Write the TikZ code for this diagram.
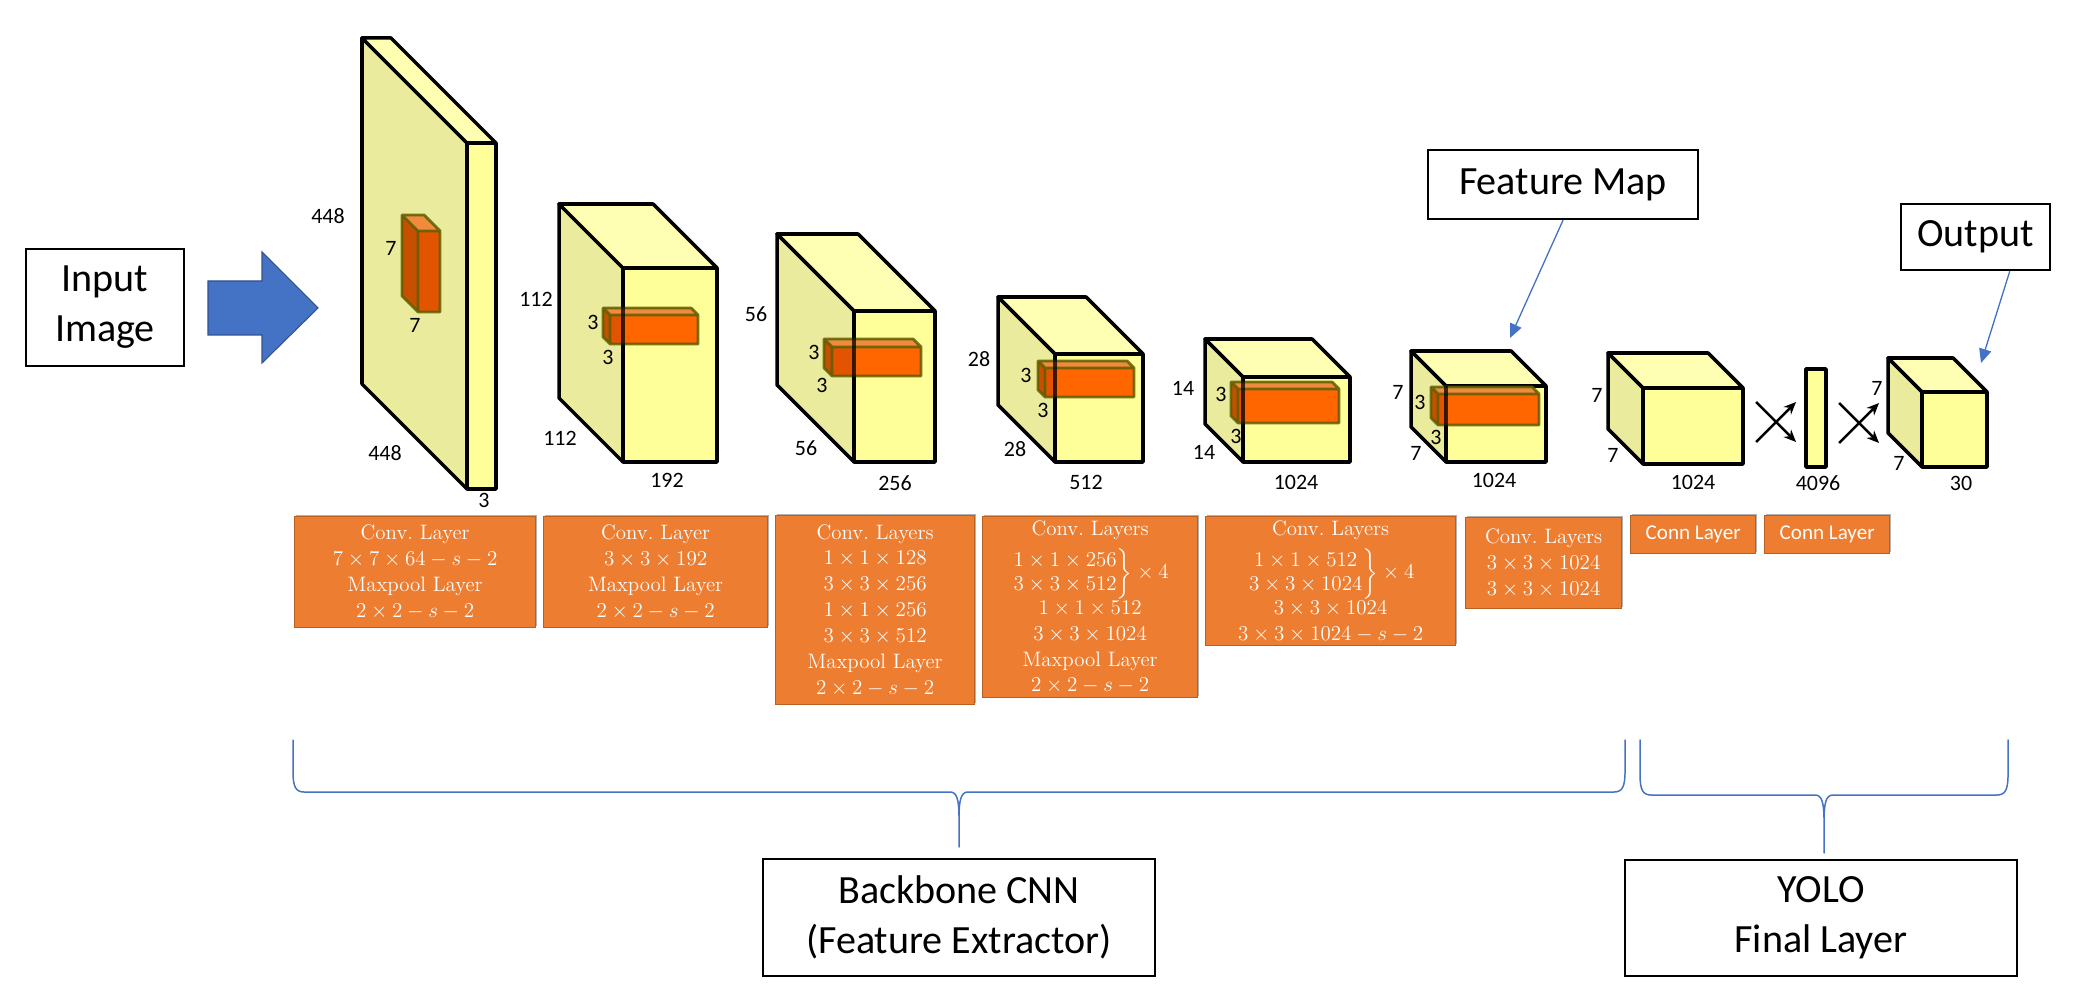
\documentclass[tikz,border=0pt]{standalone}
\usepackage{amsmath}
\usepackage{fontspec}
\newfontfamily\calibri{Carlito}
\usepackage{tikz}
\usetikzlibrary{arrows.meta, shadows, positioning}
\definecolor{SIDE}{HTML}{EBEB9E}
\definecolor{FRONT}{HTML}{FFFF99}
\definecolor{TOP}{HTML}{FFFFB3}
\definecolor{KTOP}{HTML}{F08A3C}
\definecolor{KSIDE}{HTML}{C65000}
\definecolor{KFRONT}{HTML}{FF6600}
\definecolor{KDARK}{HTML}{E35400}
\definecolor{KEDGE}{HTML}{5E5E00}
\definecolor{CONV}{HTML}{ED7D31}
\definecolor{CONVEDGE}{HTML}{B85F22}
\definecolor{ACC}{HTML}{4472C4}
\definecolor{ACCDARK}{HTML}{2F528F}
\def\pxu{0.02cm}% one pixel of the picture
\tikzset{
  cubeline/.style={% Style for the edges of the feature blocks
      draw=black, line width=2pt, line join=round
  },
  kernelline/.style={% Style for the edges of the kernels
      draw=KEDGE, draw opacity=.85, line width=1.6pt, line join=round
  },
  dim/.style={
      font=\calibri\fontsize{12.5}{12.5}\selectfont, inner sep=0pt
  },
  textbox/.style={% Style for the black framed captions
      rectangle, draw=black, line width=1.4pt,
      align=center, inner sep=0pt,
      font=\calibri\fontsize{22.8}{28.4}\selectfont
  },
  convbox/.style={% Style for the orange layer boxes
      rectangle, anchor=north west,
      fill=CONV, draw=CONVEDGE, line width=.7pt,
      text=white, align=center, inner sep=0pt,
      font=\fontsize{11.9}{14.7}\selectfont,
      drop shadow={shadow xshift=.8pt, shadow yshift=1.2pt, opacity=.3, fill=black}
  },
  connbox/.style={convbox, font=\calibri\fontsize{12}{14}\selectfont},
  flow/.style={-{Stealth[length=7pt, width=6pt]}, line width=1.4pt},
  pointer/.style={-{Triangle[length=8pt, width=7pt]}, draw=ACC, line width=.75pt},
  bracket/.style={draw=ACC, line width=.85pt, line cap=round}
}
\def\cube(#1,#2)#3#4#5#6{% back corner, name, front width, front height, depth
  \begin{scope}[shift={(#1,#2)}]
    \filldraw[cubeline, fill=SIDE] (0,0) -- (#6,#6) -- (#6,#5+#6) -- (0,#5) -- cycle;
    \filldraw[cubeline, fill=TOP] (0,0) -- (#4,0) -- (#4+#6,#6) -- (#6,#6) -- cycle;
    \filldraw[cubeline, fill=FRONT] (#6,#6) rectangle (#4+#6,#5+#6);
    \coordinate (#3a) at (#6,#6);    % front face, top left
    \coordinate (#3b) at (#6,#5+#6); % front face, bottom left
  \end{scope}
}
\def\kernel(#1,#2)#3#4#5#6{% side corner, front width, front height, depth, part lying on the side face
  \begin{scope}[shift={(#1,#2)}]
    \fill[KSIDE] (0,0) -- (#5,#5) -- (#5,#4+#5) -- (0,#4) -- cycle;
    \fill[KTOP] (0,0) -- (#3,0) -- (#3+#5,#5) -- (#5,#5) -- cycle;
    \fill[KFRONT] (#5,#5) rectangle (#3+#5,#4+#5);
    \fill[KDARK] (#5,#5) rectangle (#5+#6,#4+#5);
    \draw[kernelline] (0,0) -- (#3,0) -- (#3+#5,#5) -- (#3+#5,#4+#5) -- (#5,#4+#5) -- (0,#4) -- cycle
      (0,0) -- (#5,#5) -- (#3+#5,#5) (#5,#5) -- (#5,#4+#5);
  \end{scope}
}
\def\layerbrace(#1,#2,#3)#4#5{% left x, right x, top y; line y, tip y
  \pgfmathsetmacro\bracemid{(#1+#2)/2}
  \draw[bracket] (#1,#3) -- (#1,#4-20) .. controls (#1,#4-5) and (#1+3,#4) .. (#1+11,#4)
    -- (\bracemid-9,#4) .. controls (\bracemid-2,#4) and (\bracemid,#4+8) .. (\bracemid,#4+26) -- (\bracemid,#5)
    (\bracemid,#4+26) .. controls (\bracemid,#4+8) and (\bracemid+2,#4) .. (\bracemid+9,#4)
    -- (#2-11,#4) .. controls (#2-3,#4) and (#2,#4-5) .. (#2,#4-20) -- (#2,#3);
}
\def\twice#1#2{\left.\def\arraystretch{.92}\begin{array}{@{}c@{}}#1\\ #2\end{array}\right\}\times4}% grouped pair of layers
\begin{document}
\begin{tikzpicture}[x=\pxu, y=-\pxu]
  \useasboundingbox (0,0) rectangle (2084,999);
  % input
  \node[textbox, minimum width=158*\pxu, minimum height=117*\pxu] (input) at (105,307.5) {Input\\Image};
  \filldraw[fill=ACC, draw=ACCDARK, line width=.6pt]
    (208,281) -- (262,281) -- (262,252) -- (318,308) -- (262,363) -- (262,335) -- (208,335) -- cycle;
  % feature blocks
  \cube(362,38){c1}{29}{346}{105}
  \kernel(402,215){22}{81}{16}{22}
  \cube(559,204){c2}{94}{194}{64}
  \kernel(603,308){88}{29}{7}{13}
  \draw[cubeline, draw opacity=.75] (c2a) -- (c2b);
  \cube(777,234){c3}{81}{151}{77}
  \kernel(824,339){89}{29}{8}{22}
  \draw[cubeline, draw opacity=.75] (c3a) -- (c3b);
  \cube(998,297){c4}{88}{108}{57}
  \kernel(1038,361){89}{29}{7}{10}
  \draw[cubeline, draw opacity=.75] (c4a) -- (c4b);
  \cube(1205,339){c5}{107}{85}{38}
  \kernel(1231,382){101}{34}{7}{5}
  \draw[cubeline, draw opacity=.75] (c5a) -- (c5b);
  \cube(1411,351){c6}{100}{76}{35}
  \kernel(1431,387){101}{31}{7}{8}
  \draw[cubeline, draw opacity=.75] (c6a) -- (c6b);
  \cube(1608,353){c7}{100}{76}{35}
  \filldraw[cubeline, fill=FRONT] (1806,369) rectangle (1826,467);
  \cube(1888,358){c8}{65}{75}{34}
  % fully connected steps
  \coordinate (xa1) at (1756,402); \coordinate (xa2) at (1796,442);
  \coordinate (xa3) at (1756,442); \coordinate (xa4) at (1796,402);
  \coordinate (xb1) at (1839,403); \coordinate (xb2) at (1879,443);
  \coordinate (xb3) at (1839,443); \coordinate (xb4) at (1879,403);
  \draw[flow] (xa1) -- (xa2);
  \draw[flow] (xa3) -- (xa4);
  \draw[flow] (xb1) -- (xb2);
  \draw[flow] (xb3) -- (xb4);
  % sizes
  \foreach \t/\x/\y [count=\i] in {
    448/328/216, 448/385/453, 3/484/500, 7/391/248, 7/415/325,
    112/536/299, 112/560/438, 192/667/480, 3/593/322, 3/608/357,
    56/756/314, 56/806/448, 256/895/483, 3/814/352, 3/822/385,
    28/979/359, 28/1015/449, 512/1086/482, 3/1026/375, 3/1043/410,
    14/1183/388, 14/1204/452, 1024/1296/482, 3/1221/394, 3/1236/436,
    7/1398/392, 7/1416/453, 1024/1494/480, 3/1420/402, 3/1436/437,
    7/1597/395, 7/1613/455, 1024/1693/482, 4096/1818/483,
    7/1877/388, 7/1899/463, 30/1961/483}
    \node[dim] (dim\i) at (\x,\y) {\t};
  % layers
  \node[convbox, minimum width=241*\pxu, minimum height=111*\pxu] (conv1) at (294,516)
    {Conv.\ Layer\\ $7\times7\times64-s-2$\\ Maxpool Layer\\ $2\times2-s-2$};
  \node[convbox, minimum width=224*\pxu, minimum height=111*\pxu] (conv2) at (543,516)
    {Conv.\ Layer\\ $3\times3\times192$\\ Maxpool Layer\\ $2\times2-s-2$};
  \node[convbox, minimum width=199*\pxu, minimum height=189*\pxu] (conv3) at (775,515)
    {Conv.\ Layers\\ $1\times1\times128$\\ $3\times3\times256$\\ $1\times1\times256$\\ $3\times3\times512$\\ Maxpool Layer\\ $2\times2-s-2$};
  \node[convbox, minimum width=215*\pxu, minimum height=181*\pxu] (conv4) at (982,516)
    {Conv.\ Layers\\[4pt] $\twice{1\times1\times256}{3\times3\times512}$\\ $1\times1\times512$\\ $3\times3\times1024$\\ Maxpool Layer\\ $2\times2-s-2$};
  \node[convbox, minimum width=250*\pxu, minimum height=129*\pxu] (conv5) at (1205,516)
    {Conv.\ Layers\\[4pt] $\twice{1\times1\times512}{3\times3\times1024}$\\ $3\times3\times1024$\\ $3\times3\times1024-s-2$};
  \node[convbox, minimum width=156*\pxu, minimum height=91*\pxu] (conv6) at (1465,517)
    {Conv.\ Layers\\ $3\times3\times1024$\\ $3\times3\times1024$};
  \node[connbox, minimum width=125*\pxu, minimum height=38*\pxu] (conn1) at (1630,515) {Conn Layer};
  \node[connbox, minimum width=125*\pxu, minimum height=38*\pxu] (conn2) at (1764,515) {Conn Layer};
  % captions
  \node[textbox, minimum width=270*\pxu, minimum height=69*\pxu] (fmap) at (1563,184.5) {Feature Map};
  \node[textbox, minimum width=149*\pxu, minimum height=66*\pxu] (outbox) at (1975.5,237) {Output};
  \coordinate (fmtip) at (1510,338);
  \coordinate (outtip) at (1981,363);
  \draw[pointer] (fmap.south) -- (fmtip);
  \draw[pointer] (outbox.-45) -- (outtip);
  \layerbrace(293,1625,740){792}{847}
  \layerbrace(1640,2008,740){795}{853}
  \node[textbox, minimum width=392*\pxu, minimum height=117*\pxu] (backbone) at (959,917.5) {Backbone CNN\\(Feature Extractor)};
  \node[textbox, minimum width=392*\pxu, minimum height=116*\pxu] (yolo) at (1821,918) {YOLO\\Final Layer};
\end{tikzpicture}
\end{document}
